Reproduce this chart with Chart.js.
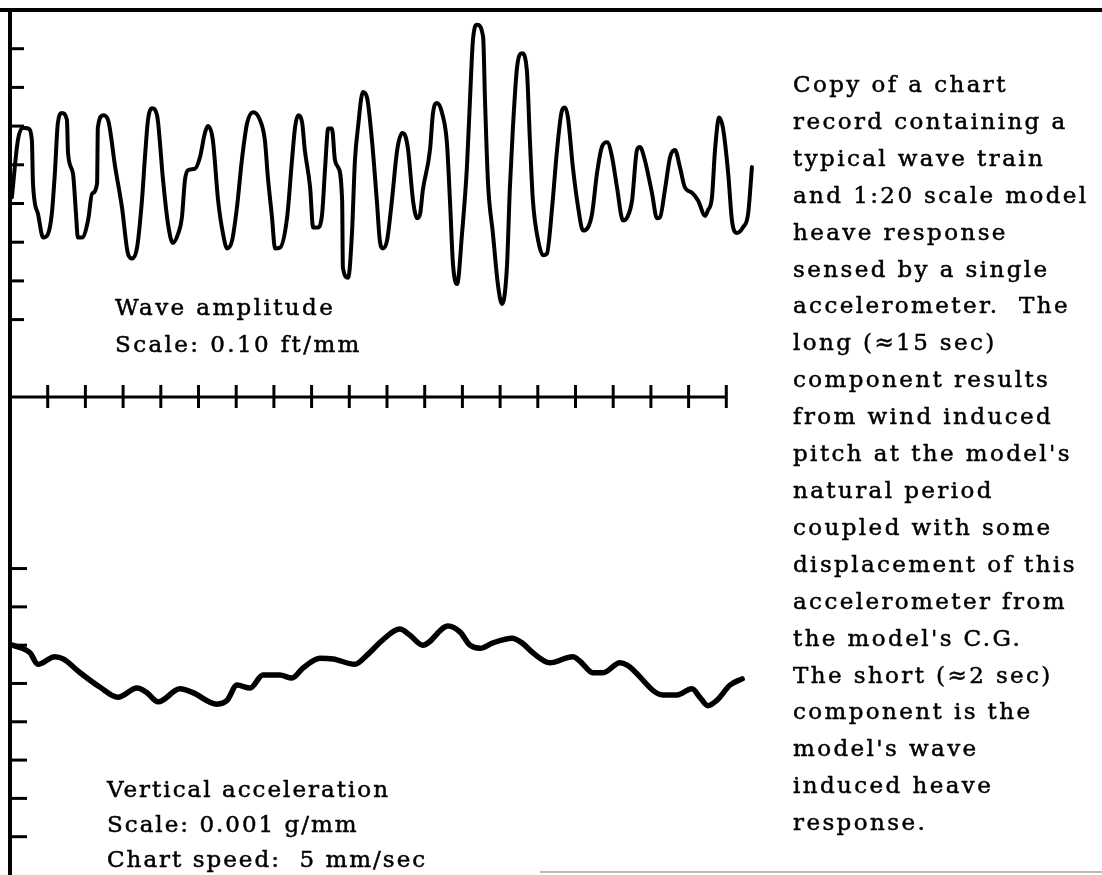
<!DOCTYPE html>
<html>
<head>
<meta charset="utf-8">
<script src="https://cdn.jsdelivr.net/npm/chart.js@4"></script>
<style>
    html, body { margin: 0; padding: 0; background: #fff; }
    #page { position: relative; width: 1102px; height: 875px; overflow: hidden; }
    .panel { position: absolute; left: 0; width: 1102px; }
    .texto {
        position: absolute;
        font-family: "DejaVu Serif", serif;
        font-size: 23px;
        letter-spacing: 2.4px;
        -webkit-text-stroke: 0.5px #000;
        color: #000;
        white-space: nowrap;
    }
</style>
</head>
<body>
<div id="page">
    <div class="panel" style="top:0;height:420px"><canvas id="chartWave"></canvas></div>
    <div class="panel" style="top:400px;height:475px"><canvas id="chartAccel"></canvas></div>

    <div class="texto" style="left:115px;top:289px;line-height:37px">Wave amplitude<br>Scale: 0.10 ft/mm</div>
    <div class="texto" style="left:107px;top:772px;line-height:35px;letter-spacing:2px">Vertical acceleration<br>Scale: 0.001 g/mm<br>Chart speed:&nbsp; 5 mm/sec</div>
    <div class="texto" style="left:793px;top:66px;line-height:36.9px">
        Copy of a chart<br>record containing a<br>typical wave train<br>and 1:20 scale model<br>heave response<br>sensed by a single<br>accelerometer.&nbsp; The<br>long (≈15 sec)<br>component results<br>from wind induced<br>pitch at the model's<br>natural period<br>coupled with some<br>displacement of this<br>accelerometer from<br>the model's C.G.<br>The short (≈2 sec)<br>component is the<br>model's wave<br>induced heave<br>response.
    </div>
</div>

<script>
// time in seconds (chart speed 5 mm/sec)
const timeTicks = [1, 2, 3, 4, 5, 6, 7, 8, 9, 10, 11, 12, 13, 14, 15, 16, 17, 18, 19];
const waveTicks = [2.0, 1.5, 1.0, 0.5, 0, -0.5, -1.0, -1.5];            // ft
const accelTicks = [0.015, 0.010, 0.005, 0, -0.005, -0.010, -0.015, -0.020]; // g

// wave amplitude record (ft)
const waveTime = [0.05, 0.21, 0.34, 0.48, 0.58, 0.61, 0.74, 0.88, 1.01, 1.11, 1.19, 1.27, 1.38, 1.51, 1.54, 1.67, 1.75, 1.80, 1.91, 2.07,
    2.18, 2.31, 2.33, 2.47, 2.60, 2.79, 2.97, 3.13, 3.24, 3.37, 3.50, 3.58, 3.66, 3.77, 3.90, 4.06, 4.19, 4.32, 4.46, 4.56,
    4.64, 4.72, 4.91, 5.04, 5.17, 5.25, 5.38, 5.52, 5.65, 5.76, 5.89, 6.02, 6.15, 6.29, 6.45, 6.63, 6.76, 6.84, 6.95, 7.03,
    7.16, 7.35, 7.48, 7.56, 7.64, 7.75, 7.82, 7.96, 8.04, 8.17, 8.28, 8.36, 8.44, 8.54, 8.62, 8.70, 8.81, 8.83, 8.97, 9.07,
    9.15, 9.23, 9.36, 9.47, 9.60, 9.73, 9.81, 9.89, 10.00, 10.13, 10.27, 10.40, 10.48, 10.56, 10.69, 10.80, 10.88, 10.95, 11.14, 11.22,
    11.33, 11.46, 11.59, 11.67, 11.75, 11.86, 11.99, 12.12, 12.20, 12.28, 12.39, 12.55, 12.60, 12.68, 12.81, 12.94, 13.05, 13.18, 13.26, 13.34,
    13.45, 13.58, 13.71, 13.79, 13.87, 14.01, 14.14, 14.24, 14.38, 14.51, 14.64, 14.72, 14.80, 14.93, 15.07, 15.20, 15.33, 15.44, 15.57, 15.70,
    15.84, 15.97, 16.10, 16.26, 16.37, 16.50, 16.63, 16.71, 16.84, 17.03, 17.16, 17.24, 17.37, 17.51, 17.64, 17.77, 17.90, 18.09, 18.25, 18.44,
    18.51, 18.62, 18.70, 18.81, 18.91, 19.05, 19.15, 19.28, 19.44, 19.58, 19.68];
const waveFeet = [0.08, 0.82, 0.98, 0.97, 0.82, 0.26, -0.13, -0.44, -0.39, -0.13, 0.39, 1.04, 1.17, 1.08, 0.65, 0.39, -0.13, -0.44, -0.44, -0.22,
    0.13, 0.26, 0.98, 1.14, 1.08, 0.47, -0.05, -0.65, -0.71, -0.57, 0.04, 0.60, 1.08, 1.23, 1.14, 0.30, -0.26, -0.51, -0.39, -0.18,
    0.30, 0.43, 0.45, 0.60, 0.91, 1.00, 0.82, 0.04, -0.39, -0.58, -0.48, -0.05, 0.56, 1.04, 1.18, 1.08, 0.82, 0.34, -0.18, -0.58,
    -0.57, -0.18, 0.56, 0.98, 1.14, 1.04, 0.69, 0.21, -0.31, -0.31, -0.13, 0.47, 0.97, 0.97, 0.56, 0.47, 0.04, -0.83, -0.96, -0.39,
    0.56, 0.98, 1.44, 1.37, 0.82, 0.04, -0.48, -0.58, -0.48, 0.04, 0.69, 0.91, 0.88, 0.69, 0.04, -0.19, -0.13, 0.17, 0.69, 1.17,
    1.30, 1.17, 0.78, 0.04, -0.78, -1.04, -0.39, 0.47, 1.33, 2.11, 2.31, 2.15, 1.33, 0.26, -0.39, -1.04, -1.30, -0.83, 0.21, 0.98,
    1.76, 1.94, 1.72, 0.82, 0.04, -0.48, -0.67, -0.65, -0.05, 0.69, 1.20, 1.24, 1.11, 0.47, -0.05, -0.35, -0.31, -0.13, 0.39, 0.73,
    0.79, 0.60, 0.21, -0.22, -0.18, 0.04, 0.69, 0.73, 0.56, 0.13, -0.19, -0.18, 0.17, 0.60, 0.69, 0.47, 0.21, 0.14, 0.04, -0.16,
    -0.09, 0.08, 0.69, 1.11, 0.98, 0.39, -0.22, -0.38, -0.31, -0.13, 0.47];

// vertical acceleration record (g)
const accelTime = [0.08, 0.53, 0.74, 1.19, 1.41, 1.86, 2.39, 2.86, 3.37, 3.63, 3.93, 4.51, 4.85, 5.49, 5.76, 6.02, 6.37, 6.71, 7.16, 7.48,
    7.77, 8.22, 8.57, 9.15, 9.47, 9.89, 10.34, 10.61, 10.95, 11.62, 11.94, 12.20, 12.47, 12.81, 13.32, 13.58, 13.87, 14.32, 14.93, 15.12,
    15.46, 15.73, 16.18, 16.37, 17.32, 17.69, 18.09, 18.30, 18.51, 18.75, 19.10, 19.42];
const accelG = [0.0050, 0.0040, 0.0025, 0.0035, 0.0032, 0.0014, -0.0005, -0.0018, -0.0006, -0.0012, -0.0024, -0.0007, -0.0012, -0.0027, -0.0022, -0.0002, -0.0006, 0.0011, 0.0011, 0.0007,
    0.0020, 0.0033, 0.0032, 0.0025, 0.0037, 0.0057, 0.0071, 0.0063, 0.0050, 0.0075, 0.0067, 0.0050, 0.0046, 0.0053, 0.0059, 0.0053, 0.0040, 0.0027, 0.0035, 0.0029,
    0.0014, 0.0014, 0.0027, 0.0024, -0.0015, -0.0015, -0.0007, -0.0018, -0.0029, -0.0022, -0.0002, 0.0006];

const timeMax = 20;

function linea(ctx, x1, y1, x2, y2, ancho, color) {
    ctx.beginPath();
    ctx.lineWidth = ancho;
    ctx.strokeStyle = color || '#000';
    ctx.moveTo(x1, y1);
    ctx.lineTo(x2, y2);
    ctx.stroke();
}

// chart-record frame: left baseline with tick marks, drawn from the scales
const marcoOnda = {
    id: 'marcoOnda',
    afterDraw(chart) {
        const {ctx, chartArea, scales} = chart;
        ctx.save();
        linea(ctx, 0, chartArea.top, chart.width, chartArea.top, 4);
        linea(ctx, chartArea.left, chartArea.top - 2, chartArea.left, chart.height, 4);
        waveTicks.forEach(v => {
            const y = scales.y.getPixelForValue(v);
            linea(ctx, chartArea.left, y, chartArea.left + 14, y, 3);
        });
        const yEje = chartArea.bottom;
        linea(ctx, chartArea.left, yEje, scales.x.getPixelForValue(timeTicks[timeTicks.length - 1]), yEje, 3);
        timeTicks.forEach(t => {
            const x = scales.x.getPixelForValue(t);
            linea(ctx, x, yEje - 12, x, yEje + 11, 3);
        });
        ctx.restore();
    }
};

const marcoAcel = {
    id: 'marcoAcel',
    afterDraw(chart) {
        const {ctx, chartArea, scales} = chart;
        ctx.save();
        linea(ctx, chartArea.left, 0, chartArea.left, chart.height, 4);
        accelTicks.forEach(v => {
            const y = scales.y.getPixelForValue(v);
            linea(ctx, chartArea.left, y, chartArea.left + 17, y, 3);
        });
        linea(ctx, 540, chart.height - 3, chart.width, chart.height - 3, 2, '#bbb');
        ctx.restore();
    }
};

function opciones(yMin, yMax, padding) {
    return {
        responsive: true,
        maintainAspectRatio: false,
        animation: false,
        layout: {padding},
        plugins: {legend: {display: false}, tooltip: {enabled: false}},
        scales: {
            x: {type: 'linear', min: 0, max: timeMax, display: false},
            y: {type: 'linear', min: yMin, max: yMax, display: false}
        }
    };
}

function iniciarGraficos() {
    new Chart(document.getElementById('chartWave'), {
        type: 'line',
        data: {
            datasets: [{
                label: 'Wave amplitude (ft)',
                data: waveTime.map((t, i) => ({x: t, y: waveFeet[i]})),
                borderColor: '#000',
                borderWidth: 4,
                pointRadius: 0,
                cubicInterpolationMode: 'monotone',
                borderJoinStyle: 'round',
                borderCapStyle: 'round',
                clip: false
            }]
        },
        options: opciones(-2.5, 2.5, {left: 10, right: 338, top: 10, bottom: 23}),
        plugins: [marcoOnda]
    });

    new Chart(document.getElementById('chartAccel'), {
        type: 'line',
        data: {
            datasets: [{
                label: 'Vertical acceleration (g)',
                data: accelTime.map((t, i) => ({x: t, y: accelG[i]})),
                borderColor: '#000',
                borderWidth: 5.5,
                pointRadius: 0,
                cubicInterpolationMode: 'monotone',
                borderJoinStyle: 'round',
                borderCapStyle: 'round',
                clip: false
            }]
        },
        options: opciones(-0.025, 0.037, {left: 10, right: 338, top: 0, bottom: 0}),
        plugins: [marcoAcel]
    });
}

iniciarGraficos();
</script>
</body>
</html>
